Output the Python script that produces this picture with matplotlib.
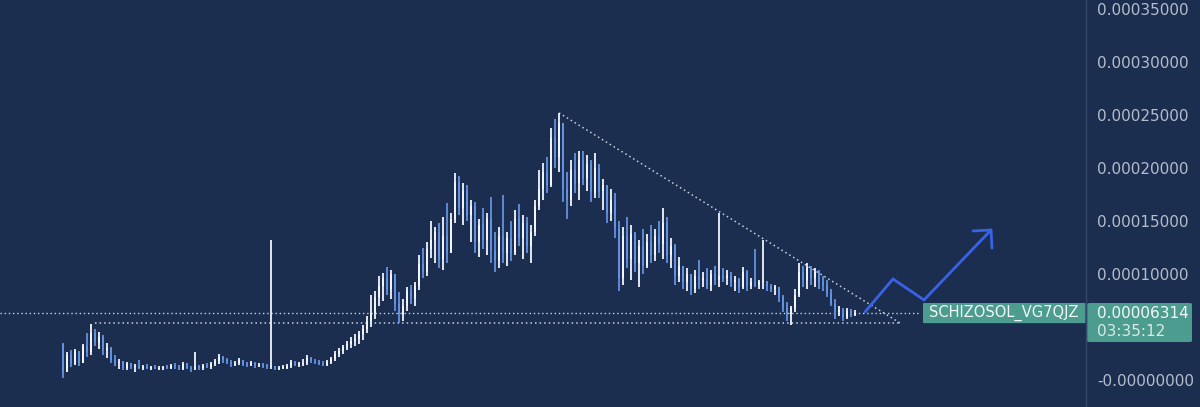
import matplotlib.pyplot as plt
import numpy as np
from matplotlib.patches import FancyBboxPatch
from matplotlib.ticker import FuncFormatter, FixedLocator

# prices in units of 1e-5
first_open = 3.3
closes = [0.8, 2.4, 1.5, 2.7, 1.6, 3.2, 2.6, 4.4, 3.6, 4.1, 2.8, 3.0, 1.9, 1.6, 1.7, 1.1,
          1.5, 1.2, 1.3, 1.1, 1.2, 1.1, 1.2, 1.0, 1.1, 1.2, 1.1, 1.3, 1.2, 1.0, 1.5, 1.1, 1.0, 1.2, 1.1,
          1.3, 1.2, 1.5, 1.8, 2.2, 1.9, 1.7, 1.4, 1.6, 1.9, 1.5, 1.4, 1.6, 1.3, 1.4, 1.3, 1.2,
          1.3, 1.0, 1.1, 1.1, 1.3, 1.7, 1.4, 1.5, 1.6, 2.1, 1.8, 1.7, 1.5, 1.4, 1.7, 2.0, 2.5,
          2.7, 3.1, 3.4, 3.7, 3.9, 4.3, 4.8, 5.6, 6.3, 7.8, 8.9, 9.6, 8.6, 10.0, 7.2, 6.2, 7.0,
          8.4, 7.6, 8.9, 10.9, 10.2, 12.4, 13.2, 14.0, 11.4, 13.6, 12.0, 15.2, 18.7, 16.2, 17.8,
          15.6, 16.4, 13.0, 14.6, 13.2, 15.2, 12.2, 11.2, 13.6, 12.0, 13.4, 12.0, 15.2, 13.4,
          14.8, 12.6, 14.0, 16.4, 18.0, 19.6, 18.4, 22.8, 21.0, 24.2, 18.0, 17.0, 19.8, 18.6,
          20.8, 19.0, 20.4, 17.6, 20.0, 17.8, 18.4, 15.8, 17.0, 14.2, 9.6, 13.6, 11.4, 13.8,
          11.0, 12.6, 10.8, 13.0, 11.8, 13.6, 12.8, 14.8, 11.8, 12.6, 9.8, 10.8, 9.2, 10.0, 8.6,
          9.8, 9.4, 9.6, 9.0, 10.0, 9.4, 9.8, 9.6, 9.9, 9.2, 9.4, 8.8, 10.2, 8.9, 9.2, 9.0, 9.2,
          9.3, 8.9, 8.6, 8.8, 7.8, 6.8, 6.2, 6.8, 8.0, 10.2, 9.4, 10.6, 9.6, 10.2, 9.2, 9.0,
          8.2, 7.2, 6.4, 6.6, 5.9, 6.5, 6.1, 6.314]
highs = [3.5, 2.6, 2.8, 2.9, 2.6, 3.4, 4.4, 5.3, 4.8, 4.5, 4.2, 3.5, 3.1, 2.4, 2.0, 1.8,
         1.7, 1.6, 1.5, 1.9, 1.4, 1.5, 1.3, 1.4, 1.3, 1.3, 1.4, 1.5, 1.6, 1.4, 1.7, 1.6, 1.3, 2.6, 1.4,
         1.5, 1.6, 1.7, 2.0, 2.5, 2.3, 2.1, 1.9, 1.8, 2.1, 1.9, 1.7, 1.8, 1.7, 1.6, 1.6, 1.5,
         13.2, 1.3, 1.3, 1.4, 1.5, 1.9, 1.8, 1.7, 2.0, 2.4, 2.2, 2.0, 1.9, 1.8, 1.9, 2.2, 2.7,
         3.0, 3.3, 3.7, 4.1, 4.3, 4.6, 5.2, 6.0, 8.0, 8.4, 9.8, 10.1, 10.7, 10.4, 9.4, 8.3, 7.6,
         8.8, 9.0, 9.2, 11.8, 12.5, 13.0, 15.0, 14.4, 14.8, 15.4, 16.7, 15.8, 19.5, 19.2, 18.6,
         18.4, 17.0, 16.8, 15.2, 16.2, 15.8, 17.3, 14.0, 14.4, 17.5, 14.0, 15.0, 16.0, 16.6,
         15.6, 15.4, 14.6, 17.0, 19.8, 20.5, 21.0, 23.8, 24.6, 25.2, 24.0, 19.6, 20.8, 21.4,
         21.6, 21.6, 21.2, 20.8, 21.4, 20.4, 19.0, 18.4, 18.0, 17.6, 15.0, 14.4, 15.4, 14.6,
         14.0, 13.2, 14.2, 13.8, 14.6, 14.2, 15.0, 16.2, 15.4, 13.4, 12.8, 11.6, 10.8, 10.6, 9.8,
         10.4, 11.3, 10.2, 10.6, 10.4, 10.8, 15.8, 10.6, 10.4, 10.2, 9.8, 9.6, 10.7, 10.4, 9.6,
         12.4, 9.4, 13.2, 9.2, 9.1, 9.0, 8.8, 8.0, 7.4, 7.0, 8.6, 11.0, 10.8, 11.0, 10.8, 10.6,
         10.4, 9.8, 9.4, 8.6, 7.6, 7.0, 6.8, 6.8, 6.7, 6.6]
lows = [0.2, 1.0, 1.2, 1.4, 1.3, 1.8, 2.2, 2.4, 3.2, 2.9, 2.4, 2.1, 1.6, 1.3, 1.0, 0.9,
        0.9, 1.0, 0.8, 1.0, 0.9, 1.0, 0.9, 1.0, 0.9, 0.9, 1.0, 1.0, 1.0, 0.9, 0.9, 1.0, 0.8, 0.9, 0.9,
        0.9, 1.1, 1.0, 1.3, 1.5, 1.6, 1.5, 1.2, 1.3, 1.4, 1.3, 1.2, 1.3, 1.1, 1.2, 1.1, 1.0,
        1.0, 0.9, 0.9, 1.0, 1.0, 1.1, 1.3, 1.2, 1.3, 1.4, 1.6, 1.5, 1.4, 1.3, 1.3, 1.5, 1.8,
        2.2, 2.5, 2.8, 3.0, 3.2, 3.4, 3.8, 4.4, 5.0, 5.8, 7.0, 7.5, 8.0, 7.6, 6.5, 5.4, 5.6,
        6.5, 7.2, 7.0, 8.5, 9.6, 9.8, 11.5, 11.0, 10.6, 10.4, 11.0, 12.0, 14.8, 15.6, 14.6,
        15.0, 13.0, 12.0, 11.6, 12.4, 11.8, 11.0, 10.2, 10.6, 11.0, 10.8, 11.2, 11.8, 12.6,
        11.4, 12.0, 11.0, 13.6, 16.0, 17.0, 17.6, 18.2, 20.0, 19.6, 16.8, 15.2, 16.4, 17.6,
        17.0, 18.4, 17.8, 16.8, 17.2, 17.2, 16.0, 14.8, 15.0, 13.4, 8.4, 9.0, 10.6, 9.4,
        10.2, 8.8, 10.0, 10.6, 11.0, 11.2, 12.0, 11.4, 11.0, 10.6, 9.0, 9.2, 8.6, 8.4, 8.0,
        8.2, 8.6, 8.8, 8.6, 8.4, 9.0, 8.8, 9.2, 9.0, 8.8, 8.4, 8.2, 8.6, 8.4, 8.6,
        8.8, 8.6, 8.6, 8.4, 8.3, 8.0, 7.4, 6.4, 5.6, 5.2, 6.4, 7.8, 8.8, 8.6, 9.0, 8.8,
        8.6, 8.4, 7.8, 7.0, 5.8, 6.0, 5.6, 5.8, 5.9, 6.0]

price_ticks = [0, 10, 15, 20, 25, 30, 35]
last_price_text = "0.00006314"
countdown_text = "03:35:12"
symbol_text = "SCHIZOSOL_VG7QJZ"

# drawn lines on the chart, (bar index, price in 1e-5)
triangle_top = ([124, 209.25], [25.2, 5.38])
triangle_base = ([8, 209.25], [5.38, 5.38])
arrow_path = ([200.5, 207.5, 215.25, 232.0], [6.42, 9.53, 7.55, 14.15])
arrow_head = ([227.5, 232.0, 232.25], [14.06, 14.15, 12.45])

bg = "#1b2e4f"
up_color = "#f1f4fa"
down_color = "#6592e0"
teal = "#4c9d8f"
dots = "#c9d2df"
label_color = "#b5bdcb"

opens = [first_open] + closes[:-1]
n = len(closes)
x = np.arange(n)

fig = plt.figure(figsize=(12, 4.07), dpi=100, facecolor=bg)
ax = fig.add_axes([0, 0, 1086 / 1200, 1])
ax.set_facecolor(bg)

colors = [up_color if c >= o else down_color for o, c in zip(opens, closes)]
ax.vlines(x, lows, highs, colors=colors, linewidth=1.3, zorder=3)
bottoms = [min(o, c) for o, c in zip(opens, closes)]
heights = [max(abs(c - o), 0.12) for o, c in zip(opens, closes)]
ax.bar(x, heights, bottom=bottoms, width=0.7, color=colors, linewidth=0, zorder=3)

# current price line and pattern lines
ax.axhline(closes[-1], xmax=(214.25 + 15.75) / (255.75 + 15.75), color=dots,
           linestyle=(0, (1, 2)), linewidth=1, zorder=2)
ax.plot(*triangle_top, color=dots, linestyle=(0, (1, 2)), linewidth=1.1, zorder=2)
ax.plot(*triangle_base, color=dots, linestyle=(0, (1, 2)), linewidth=1.1, zorder=2)
ax.plot(*arrow_path, color="#3a62e4", linewidth=2.0, solid_capstyle="round",
        solid_joinstyle="miter", zorder=4)
ax.plot(*arrow_head, color="#3a62e4", linewidth=2.0, solid_capstyle="round", zorder=4)

ax.set_xlim(-15.75, 255.75)
ax.set_ylim(-2.547, 35.849)

# symbol tag at price line
box = FancyBboxPatch((215.0, closes[-1] - 0.95), 40.6, 1.9,
                     boxstyle="round,pad=0,rounding_size=0.3", facecolor=teal,
                     edgecolor="none", zorder=5, mutation_aspect=0.2)
ax.add_patch(box)
ax.text(235.3, closes[-1], symbol_text, color="#f2f6f6", fontsize=10.5,
        ha="center", va="center", zorder=6)

# price tag on the axis
tr = ax.get_yaxis_transform()
price_box = FancyBboxPatch((1.0012, closes[-1] - 2.73), 0.0964, 3.68,
                           boxstyle="round,pad=0,rounding_size=0.003", facecolor=teal,
                           edgecolor="none", transform=tr, clip_on=False, zorder=5,
                           mutation_aspect=30)
ax.add_patch(price_box)
ax.text(1.0105, closes[-1], last_price_text, transform=tr, color="#f4f8f8",
        fontsize=11, ha="left", va="center", clip_on=False, zorder=6)
ax.text(1.0105, closes[-1] - 1.7, countdown_text, transform=tr, color="#dce9e6",
        fontsize=11, ha="left", va="center", clip_on=False, zorder=6)

# right price scale
ax.yaxis.tick_right()
ax.yaxis.set_major_locator(FixedLocator(price_ticks))
ax.yaxis.set_major_formatter(FuncFormatter(
    lambda v, p: "-0.00000000" if abs(v) < 1e-9 else f"{v * 1e-5:.8f}"))
ax.tick_params(axis="y", length=0, pad=8, labelsize=11, labelcolor=label_color)
ax.set_xticks([])
for side in ["left", "top", "bottom"]:
    ax.spines[side].set_visible(False)
ax.spines["right"].set_color("#34496d")
ax.spines["right"].set_linewidth(1)

fig.savefig("out.png", dpi=100, facecolor=bg)
